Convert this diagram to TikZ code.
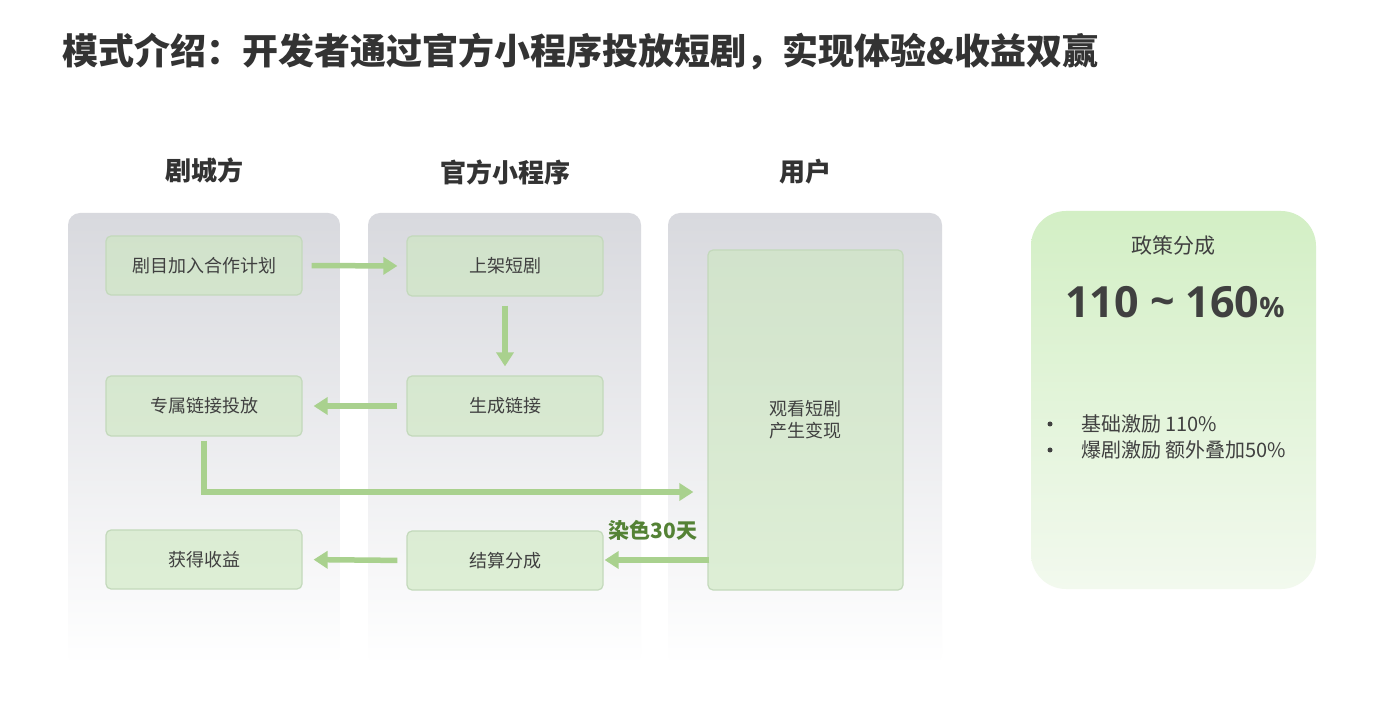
\documentclass[tikz,border=0pt]{standalone}
\usepackage{fontspec}
\setmainfont{Noto Sans CJK SC}
\newfontfamily\numfont{Open Sans}
\usetikzlibrary{arrows.meta}
\definecolor{txt}{HTML}{404040}
\definecolor{ttl}{HTML}{333333}
\definecolor{colgray}{HTML}{D8D9DE}
\definecolor{boxgreen}{HTML}{CCE8BE}
\definecolor{boxedge}{HTML}{C3D9BB}
\definecolor{arrowgreen}{HTML}{A9D18E}
\definecolor{darkgreen}{HTML}{548235}
\definecolor{paneltop}{HTML}{D3EFC5}
\definecolor{panelbot}{HTML}{F2F9EE}
\tikzset{
  lane/.style={rounded corners=12pt, top color=colgray, bottom color=white, draw=none},
  stepbox/.style={rectangle, rounded corners=5pt, draw=boxedge, line width=1.2pt,
    fill=boxgreen, fill opacity=0.6, text opacity=1, text=txt,
    minimum width=196pt, minimum height=59pt, inner sep=0pt,
    font=\fontsize{18}{22}\selectfont, align=center},
  head/.style={font=\bfseries\fontsize{26}{30}\selectfont, text=ttl},
  flow/.style={draw=arrowgreen, line width=5.5pt,
    -{Triangle[width=17pt,length=14pt]}},
  dot/.style={circle, fill=txt, inner sep=0pt, minimum size=5pt},
}
\begin{document}
\begin{tikzpicture}[x=1pt,y=1pt]
\useasboundingbox (0,0) rectangle (1391,723);
\fill[white] (0,0) rectangle (1391,723);
% title
\node[anchor=west, inner sep=0pt, text=ttl, font=\bfseries\fontsize{36}{40}\selectfont] (title) at (62,671)
  {模式介绍：开发者通过官方小程序投放短剧，实现体验\&收益双赢};
% lanes
\shade[lane] (68,58) rectangle (340,510);
\shade[lane] (368,58) rectangle (641,510);
\shade[lane] (668,58) rectangle (942,510);
% headings
\node[head] (h1) at (204,553) {剧城方};
\node[head] (h2) at (505,551) {官方小程序};
\node[head] (h3) at (805,551) {用户};
% boxes
\node[stepbox] (b1) at (204,457.5) {剧目加入合作计划};
\node[stepbox, minimum height=60pt] (b2) at (505,457) {上架短剧};
\node[stepbox, minimum height=60pt] (b3) at (505,317) {生成链接};
\node[stepbox, minimum height=60pt] (b4) at (204,317) {专属链接投放};
\node[stepbox] (b5) at (204,163.5) {获得收益};
\node[stepbox] (b6) at (505,162.5) {结算分成};
\node[stepbox, minimum width=195pt, minimum height=340pt] (b7) at (805.5,303) {观看短剧\\产生变现};
% arrows
\coordinate (lvl) at (0,231);
\coordinate (lvl2) at (0,163);
\draw[flow, shorten <=9pt, shorten >=9pt] (b1.east) -- (b2.west);
\draw[flow, shorten <=9pt, shorten >=9pt] (b2.south) -- (b3.north);
\draw[flow, shorten <=9pt, shorten >=11pt] (b3.west) -- (b4.east);
\draw[flow, shorten <=4pt, shorten >=14pt] (b4.south) |- (b7.west |- lvl);
\draw[flow, shorten <=-2pt, shorten >=1pt] (b7.west |- lvl2) -- (b6.east |- lvl2);
\draw[flow, shorten <=9pt, shorten >=11pt] (b6.west) -- (b5.east);
\node[text=darkgreen, font=\bfseries\fontsize{21}{24}\selectfont] (dye) at (653,193) {染色30天};
% right panel
\shade[rounded corners=35pt, top color=paneltop, bottom color=panelbot] (1031,134) rectangle (1316,512);
\node[text=txt, font=\fontsize{21}{24}\selectfont] (pt) at (1173,477) {政策分成};
\node[text=txt, font=\numfont\bfseries\fontsize{43}{48}\selectfont] (pct) at (1175,421)
  {110 \raisebox{1pt}{\char"7E} 160{\fontsize{28}{30}\selectfont\%}};
\node[dot] (d1) at (1050,299) {};
\node[dot] (d2) at (1050,273) {};
\node[anchor=west, inner sep=0pt, text=txt, font=\fontsize{20}{24}\selectfont] (l1) at (1081,299) {基础激励 110\%};
\node[anchor=west, inner sep=0pt, text=txt, font=\fontsize{20}{24}\selectfont] (l2) at (1081,273) {爆剧激励 额外叠加50\%};
\end{tikzpicture}
\end{document}
